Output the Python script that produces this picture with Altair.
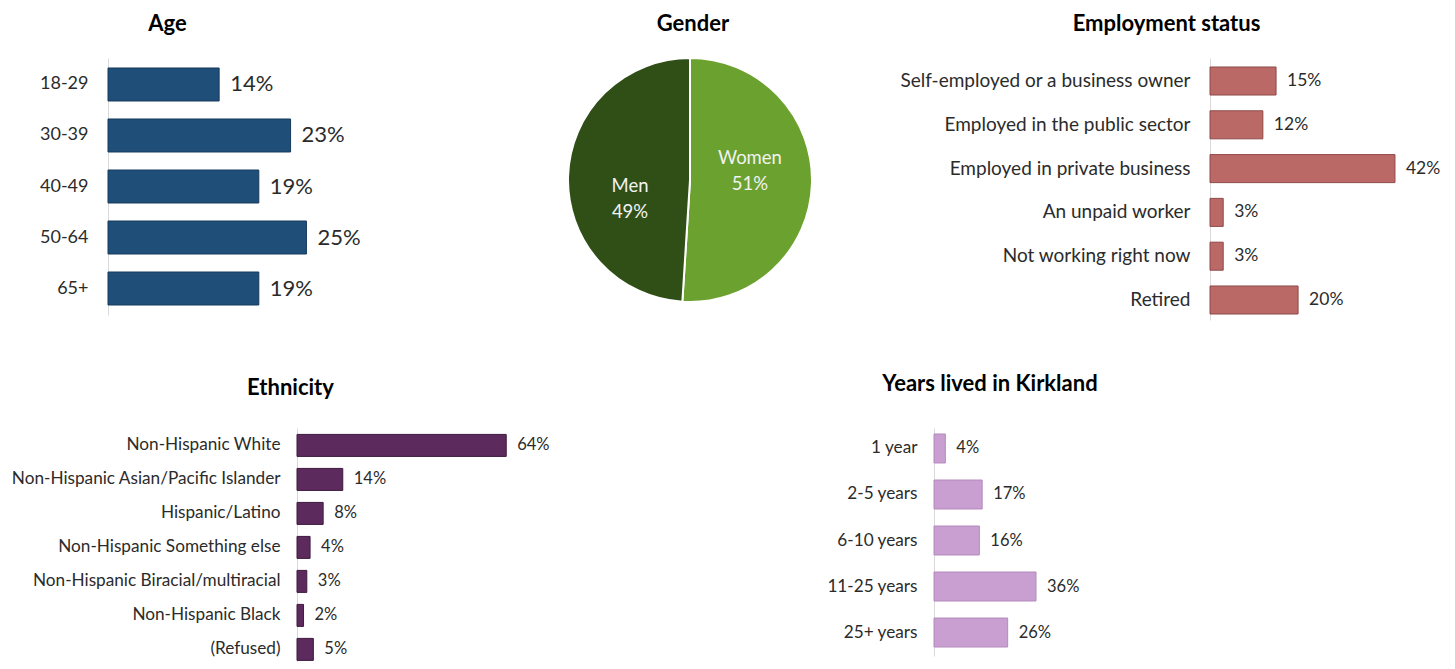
import altair as alt
import pandas as pd

# ---------------- data ----------------
age_cats = ["18-29", "30-39", "40-49", "50-64", "65+"]
age_vals = [14, 23, 19, 25, 19]

gender_cats = ["Women", "Men"]
gender_vals = [51, 49]

emp_cats = [
    "Self-employed or a business owner",
    "Employed in the public sector",
    "Employed in private business",
    "An unpaid worker",
    "Not working right now",
    "Retired",
]
emp_vals = [15, 12, 42, 3, 3, 20]

eth_cats = [
    "Non-Hispanic White",
    "Non-Hispanic Asian/Pacific Islander",
    "Hispanic/Latino",
    "Non-Hispanic Something else",
    "Non-Hispanic Biracial/multiracial",
    "Non-Hispanic Black",
    "(Refused)",
]
eth_vals = [64, 14, 8, 4, 3, 2, 5]

yrs_cats = ["1 year", "2-5 years", "6-10 years", "11-25 years", "25+ years"]
yrs_vals = [4, 17, 16, 36, 26]

FONT = "Lato"
TXT = "#2b2b2b"
TITLE_SIZE = 22


def title(text, dx, offset):
    return alt.TitleParams(
        text=text, font=FONT, fontSize=TITLE_SIZE, fontWeight="bold", color="#000000",
        anchor="middle", frame="group", dx=dx, offset=offset, baseline="alphabetic",
    )


def bar_panel(cats, vals, ttl, fill, stroke, width, xmax, height, pi, po, align,
              label_size, value_size, extent, label_pad, title_dx, title_offset):
    df = pd.DataFrame({"cat": cats, "val": vals, "lab": [f"{v}%" for v in vals]})
    base = alt.Chart(df).encode(
        y=alt.Y(
            "cat:N", sort=cats, title=None,
            scale=alt.Scale(paddingInner=pi, paddingOuter=po, align=align),
            axis=alt.Axis(
                domainColor="#d9d9d9", domainWidth=1, ticks=False, grid=False,
                labelFont=FONT, labelFontSize=label_size, labelColor=TXT,
                labelPadding=label_pad, labelLimit=500,
                minExtent=extent, maxExtent=extent,
            ),
        ),
        x=alt.X("val:Q", scale=alt.Scale(domain=[0, xmax]), axis=None),
    )
    bars = base.mark_bar(color=fill, stroke=stroke, strokeWidth=1)
    text = base.mark_text(
        align="left", baseline="middle", dx=11, font=FONT, fontSize=value_size, color=TXT
    ).encode(text="lab:N")
    return alt.layer(bars, text).properties(
        width=width, height=height, title=title(ttl, title_dx, title_offset)
    )


def spacer():
    return alt.Chart(pd.DataFrame({"s": [0]})).mark_point(
        size=0, strokeWidth=0, opacity=0
    ).encode(x=alt.value(0), y=alt.value(0)).properties(width=1, height=1)


age = bar_panel(age_cats, age_vals, "Age", "#1f4e79", "#163a5c",
                381, 48, 257, 0.353, 0.196, 0.5, 18, 22, 89, 20, -131, 5)

emp = bar_panel(emp_cats, emp_vals, "Employment status", "#ba6966", "#8f4a48",
                229, 52, 262, 0.36, 0.171, 0.6, 19, 17.5, 319, 20, -158, 5)

eth = bar_panel(eth_cats, eth_vals, "Ethnicity", "#5c2a5c", "#3e1a3e",
                255, 78, 234, 0.353, 0.118, 0.8, 17.2, 16.5, 288, 17, -134, 11)

yrs = bar_panel(yrs_cats, yrs_vals, "Years lived in Kirkland", "#c99fd2", "#b48abd",
                136, 48, 228, 0.37, 0.163, 0.4, 17.2, 16.5, 382, 17, -12, 15)

# ---------------- pie ----------------
gdf = pd.DataFrame({
    "cat": gender_cats,
    "val": gender_vals,
    "ord": [0, 1],
    "lab": [f"{c}\n{v}%" for c, v in zip(gender_cats, gender_vals)],
})
theta_scale = alt.Scale(domain=[0, 100])
arcs = alt.Chart(gdf).mark_arc(outerRadius=122, stroke="#ffffff", strokeWidth=2).encode(
    theta=alt.Theta("val:Q", stack=True, scale=theta_scale),
    order=alt.Order("ord:Q"),
    color=alt.Color("cat:N", scale=alt.Scale(domain=gender_cats, range=["#6ba12f", "#304f17"]),
                    legend=None),
)

lab_base = alt.Chart(gdf).transform_window(
    cum="sum(val)", sort=[alt.SortField("ord")]
).transform_calculate(
    mid="datum.cum - datum.val / 2"
)


def pie_label(cat, dy):
    return lab_base.transform_filter(alt.datum.cat == cat).mark_text(
        radius=60, font=FONT, fontSize=18.5, color="#f2f2f2",
        lineBreak="\n", lineHeight=26, baseline="middle", dy=dy,
    ).encode(
        theta=alt.Theta("mid:Q", stack=None, scale=theta_scale),
        text="lab:N",
    )


gender = alt.layer(arcs, pie_label("Women", -24), pie_label("Men", 8)).properties(
    width=382, height=244, title=title("Gender", 3, 1)
)

row1 = alt.hconcat(spacer(), age, gender, emp, spacing=10)
row2 = alt.hconcat(spacer(), eth, yrs, spacing=0)

chart = alt.vconcat(row1, row2, spacing=53).properties(
    padding={"top": 5, "left": 0, "right": 0, "bottom": 0}
).configure_view(stroke=None)

chart.save("out.html", embed_options={"renderer": "svg", "actions": False})
